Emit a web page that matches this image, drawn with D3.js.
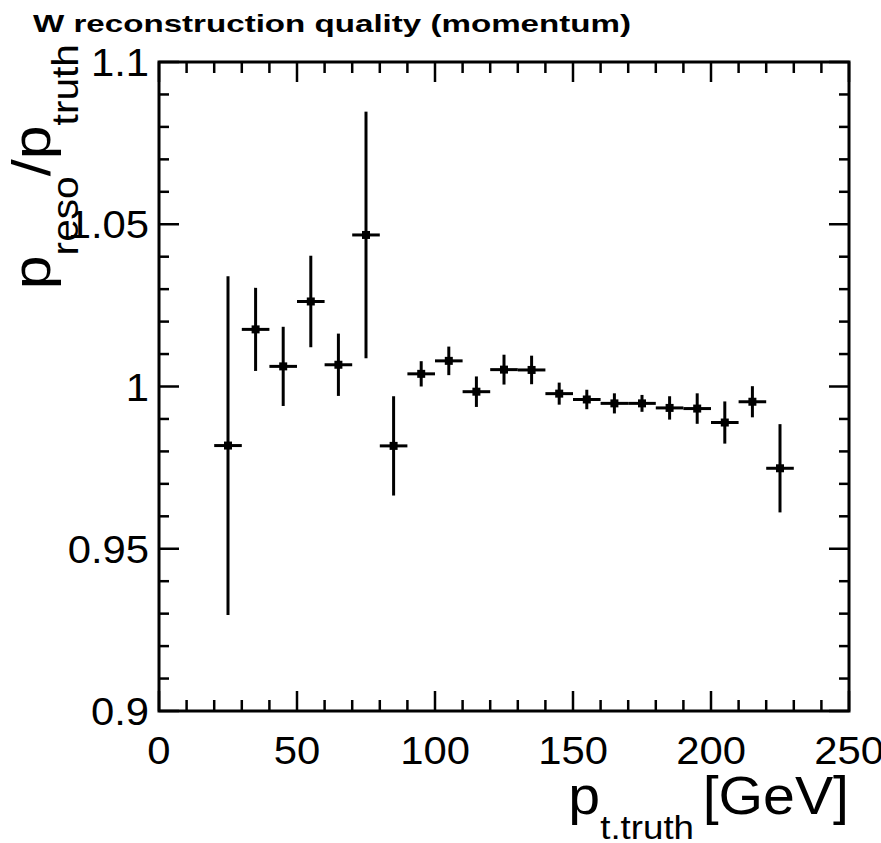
<!doctype html>
<html>
<head>
<meta charset="UTF-8">
<title>W reconstruction quality</title>
<script src="https://d3js.org/d3.v7.min.js"></script>
<style>
body { margin: 0; background: #fff; }
text { font-family: "Liberation Sans", Arial, sans-serif; fill: #000; }
</style>
</head>
<body>
<script>
// bin centres (GeV), ratio value and its error
var binCenters = [25, 35, 45, 55, 65, 75, 85, 95, 105, 115, 125, 135, 145, 155, 165, 175, 185, 195, 205, 215, 225];
var ratioValues = [0.9818, 1.0176, 1.0062, 1.0262, 1.0067, 1.0467, 0.9817, 1.0039, 1.0079, 0.9984, 1.0052, 1.0051, 0.9978, 0.9960, 0.9948, 0.9948, 0.9934, 0.9932, 0.9889, 0.9953, 0.9748];
var ratioErrors = [0.0522, 0.0128, 0.0122, 0.0141, 0.0096, 0.0380, 0.0153, 0.0039, 0.0044, 0.0047, 0.0046, 0.0044, 0.0034, 0.0030, 0.0031, 0.0026, 0.0036, 0.0047, 0.0065, 0.0048, 0.0136];
var binHalfWidth = 5;
var xTickLabels = [0, 50, 100, 150, 200, 250];
var yTickLabels = [0.9, 0.95, 1, 1.05, 1.1];

var W = 881, H = 843;
var frame = {left: 159, right: 849, top: 62, bottom: 711};

var svg = d3.select("body").append("svg").attr("width", W).attr("height", H);

var x = d3.scaleLinear().domain([0, 250]).range([frame.left, frame.right]);
var y = d3.scaleLinear().domain([0.9, 1.1]).range([frame.bottom, frame.top]);

// title (the original font is wide, so stretch it)
svg.append("text").attr("x", 33).attr("y", 32)
    .style("font-size", "24px").style("font-weight", "bold")
    .attr("textLength", 598).attr("lengthAdjust", "spacingAndGlyphs")
    .text("W reconstruction quality (momentum)");

// ticks (all four sides, pointing inward)
var g = svg.append("g").attr("stroke", "#000").attr("stroke-width", 2.5);
d3.range(0, 251, 10).forEach(function(v) {
    var len = (v % 50 === 0) ? 20 : 11;
    g.append("line").attr("x1", x(v)).attr("x2", x(v)).attr("y1", frame.bottom).attr("y2", frame.bottom - len);
    g.append("line").attr("x1", x(v)).attr("x2", x(v)).attr("y1", frame.top).attr("y2", frame.top + len);
});
d3.range(0, 21).forEach(function(i) {
    var v = 0.9 + i * 0.01;
    var len = (i % 5 === 0) ? 20 : 10;
    g.append("line").attr("y1", y(v)).attr("y2", y(v)).attr("x1", frame.left).attr("x2", frame.left + len);
    g.append("line").attr("y1", y(v)).attr("y2", y(v)).attr("x1", frame.right).attr("x2", frame.right - len);
});

// frame
svg.append("rect").attr("x", frame.left).attr("y", frame.top)
    .attr("width", frame.right - frame.left).attr("height", frame.bottom - frame.top)
    .attr("fill", "none").attr("stroke", "#000").attr("stroke-width", 3);

// tick labels
svg.selectAll(".xl").data(xTickLabels).enter().append("text")
    .attr("transform", function(d) { return "translate(" + x(d) + ",764)scale(1.1,1)"; })
    .attr("text-anchor", "middle").style("font-size", "38px")
    .text(function(d) { return d; });
svg.selectAll(".yl").data(yTickLabels).enter().append("text")
    .attr("transform", function(d) { return "translate(149," + (y(d) + 14) + ")scale(1.1,1)"; })
    .attr("text-anchor", "end").style("font-size", "38px")
    .text(function(d) { return d; });

// axis titles
var xt = svg.append("text").attr("transform", "translate(849,814)scale(1.08,1)")
    .attr("text-anchor", "end").style("font-size", "53px");
xt.append("tspan").text("p");
xt.append("tspan").attr("dy", 25).style("font-size", "34px").text("t.truth");
xt.append("tspan").attr("dy", -25).attr("dx", 8).text("[GeV]");

var yt = svg.append("text").attr("transform", "translate(50,44)rotate(-90)scale(1.13,1)")
    .attr("text-anchor", "end").style("font-size", "54px");
yt.append("tspan").text("p");
yt.append("tspan").attr("dy", 28).style("font-size", "36px").text("reso");
yt.append("tspan").attr("dy", -28).text("/p");
yt.append("tspan").attr("dy", 28).style("font-size", "36px").text("truth");

// data points with error bars
var pts = svg.append("g").selectAll("g").data(binCenters).enter().append("g");
pts.append("line")
    .attr("x1", function(d) { return x(d); }).attr("x2", function(d) { return x(d); })
    .attr("y1", function(d, i) { return y(ratioValues[i] + ratioErrors[i]); })
    .attr("y2", function(d, i) { return y(ratioValues[i] - ratioErrors[i]); })
    .attr("stroke", "#000").attr("stroke-width", 3);
pts.append("line")
    .attr("x1", function(d) { return x(d - binHalfWidth); }).attr("x2", function(d) { return x(d + binHalfWidth); })
    .attr("y1", function(d, i) { return y(ratioValues[i]); })
    .attr("y2", function(d, i) { return y(ratioValues[i]); })
    .attr("stroke", "#000").attr("stroke-width", 3);
pts.append("rect")
    .attr("x", function(d) { return x(d) - 4; })
    .attr("y", function(d, i) { return y(ratioValues[i]) - 4; })
    .attr("width", 8).attr("height", 8).attr("fill", "#000");
</script>
</body>
</html>
